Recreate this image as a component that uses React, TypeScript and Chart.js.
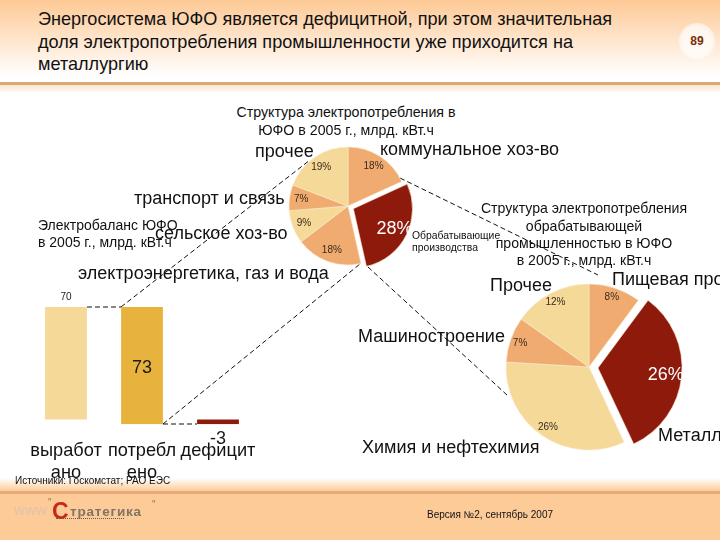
import React, { useEffect, useRef } from "react";
import { Chart, registerables } from "chart.js";

Chart.register(...registerables);

const LIGHT = "#F5D999";
const ORANGE = "#F0AC70";
const DARK = "#8E1A0C";
const GOLD = "#E8B33C";

const regionNames = ["коммунальное хоз-во", "Обрабатывающие производства", "электроэнергетика, газ и вода", "сельское хоз-во", "транспорт и связь", "прочее"];
const regionValues = [18, 28, 18, 9, 7, 19];
const regionColors = [ORANGE, DARK, ORANGE, LIGHT, ORANGE, LIGHT];
const regionOffsets = [0, 24, 0, 0, 0, 0];

const industryNames = ["Пищевая про", "Металл", "Химия и нефтехимия", "Машиностроение", "Прочее"];
const industryValues = [8, 26, 26, 7, 12];
const industryColors = [ORANGE, DARK, LIGHT, ORANGE, LIGHT];
const industryOffsets = [0, 36, 0, 0, 0];

const balanceCategories = [["выработ", "ано"], ["потребл", "ено"], ["дефицит"]];
const balanceValues = [70, 73, -3];
const balanceRanges = [[3, 73], [0, 73], [0, 3]];
const balanceColors = [LIGHT, GOLD, DARK];

const FONT = '"Liberation Sans", Arial, sans-serif';

const sliceLabels = {
  id: "sliceLabels",
  afterDatasetsDraw(chart: any, _a: any, o: any) {
    const ds = chart.data.datasets[0];
    const ctx = chart.ctx;
    chart.getDatasetMeta(0).data.forEach((arc: any, i: number) => {
      const p = arc.getProps(["x", "y", "startAngle", "endAngle", "outerRadius"], true);
      const mid = (p.startAngle + p.endAngle) / 2;
      const big = ds.offset[i] > 0;
      const shift = ds.offset[i] / 4;
      const r = shift + p.outerRadius * (big ? o.bigFrac : o.frac);
      ctx.save();
      ctx.font = big ? `18px ${FONT}` : `10px ${FONT}`;
      ctx.fillStyle = big ? "#FFFFFF" : "#3A2A1A";
      ctx.textAlign = "center";
      ctx.textBaseline = "middle";
      ctx.fillText(ds.data[i] + "%", p.x + Math.cos(mid) * r, p.y + Math.sin(mid) * r);
      ctx.restore();
    });
  },
};

const barLabels = {
  id: "barLabels",
  afterDatasetsDraw(chart: any) {
    const ctx = chart.ctx;
    const y = chart.scales.y;
    const meta = chart.getDatasetMeta(0);
    ctx.save();
    ctx.textAlign = "center";
    ctx.textBaseline = "middle";
    ctx.fillStyle = "#1A1A1A";
    ctx.font = `10px ${FONT}`;
    ctx.fillText(String(balanceValues[0]), meta.data[0].x, y.getPixelForValue(balanceRanges[0][1]) - 10);
    ctx.font = `18px ${FONT}`;
    ctx.fillText(String(balanceValues[1]), meta.data[1].x, y.getPixelForValue(balanceRanges[1][1] / 2) + 2);
    ctx.fillText(String(balanceValues[2]), meta.data[2].x, y.getPixelForValue(0) + 15);
    ctx.restore();
  },
};

function usePie(names: string[], data: number[], colors: string[], offset: number[], radius: number, frac: number, bigFrac: number) {
  const ref = useRef<HTMLCanvasElement>(null);
  useEffect(() => {
    const chart = new Chart(ref.current!, {
      type: "pie",
      data: { labels: names, datasets: [{ data, backgroundColor: colors, offset, borderColor: "#FBE9CF", borderWidth: 0.6, radius } as any] },
      options: {
        responsive: false,
        animation: false,
        layout: { padding: 0 },
        plugins: { legend: { display: false }, tooltip: { enabled: false }, sliceLabels: { frac, bigFrac } } as any,
      },
      plugins: [sliceLabels],
    } as any);
    return () => chart.destroy();
  }, []);
  return ref;
}

function T({ x, y, s, c = "#111111", a = "left", children, style }: any) {
  const st: any = { position: "absolute", top: y, fontSize: s, color: c, whiteSpace: "nowrap", lineHeight: 0, fontFamily: FONT, ...style };
  if (a === "center") { st.left = x; st.transform = "translateX(-50%)"; }
  else st.left = x;
  return <div style={st}>{children}</div>;
}

const dashes = [
  [87, 307, 121, 307],
  [121, 307, 310, 160],
  [163, 424, 197, 424],
  [163, 424, 360, 264],
  [400, 178, 598, 275],
  [368, 267, 507, 395],
];

export default function App() {
  const pie1 = usePie(regionNames, regionValues, regionColors, regionOffsets, 59, 0.8, 0.78);
  const pie2 = usePie(industryNames, industryValues, industryColors, industryOffsets, 83, 0.88, 0.82);
  const barRef = useRef<HTMLCanvasElement>(null);
  useEffect(() => {
    const chart = new Chart(barRef.current!, {
      type: "bar",
      data: {
        labels: balanceCategories,
        datasets: [{ data: balanceRanges, backgroundColor: balanceColors, barPercentage: 0.55, categoryPercentage: 1, borderWidth: 0 }],
      },
      options: {
        responsive: false,
        animation: false,
        layout: { padding: { top: 20, left: 10, right: 10 } },
        scales: {
          x: {
            afterFit(scale: any) { scale.paddingLeft = 0; scale.paddingRight = 0; },
            border: { display: false },
            grid: { display: false, drawTicks: false },
            ticks: { color: "#111", padding: 16, autoSkip: false, maxRotation: 0, minRotation: 0, font: { family: FONT, size: 18.2, lineHeight: 1.2 } },
          },
          y: { display: false, min: 0, max: 73 },
        },
        plugins: { legend: { display: false }, tooltip: { enabled: false } },
      },
      plugins: [barLabels],
    } as any);
    return () => chart.destroy();
  }, []);

  return (
    <div style={{ position: "absolute", left: 0, top: 0, width: 720, height: 540, overflow: "hidden", background: "#fff", fontFamily: FONT }}>
      <div style={{ position: "absolute", left: 0, top: 0, width: 720, height: 76, background: "linear-gradient(#FDC995, #FFFFFF)" }} />
      <div style={{ position: "absolute", left: 0, top: 82, width: 720, height: 3, background: "#D8A97C" }} />
      <div style={{ position: "absolute", left: 0, top: 85, width: 720, height: 8, background: "linear-gradient(#FDE3C8, #FFFFFF)" }} />
      <div style={{ position: "absolute", left: 0, top: 478, width: 720, height: 13, background: "linear-gradient(#FFFFFF, #FCCB98)" }} />
      <div style={{ position: "absolute", left: 0, top: 491, width: 720, height: 49, background: "#FDCB98" }} />
      <div style={{ position: "absolute", left: 0, top: 491, width: 720, height: 3, background: "#E9A878" }} />
      <div style={{ position: "absolute", left: 679, top: 23, width: 36, height: 36, borderRadius: 18, background: "radial-gradient(circle, rgba(255,255,255,0.75) 55%, rgba(255,255,255,0) 100%)" }} />

      <svg width={720} height={540} style={{ position: "absolute", left: 0, top: 0 }}>
        {dashes.map((d, i) => (
          <line key={i} x1={d[0]} y1={d[1]} x2={d[2]} y2={d[3]} stroke="#111" strokeWidth={1} strokeDasharray="5 3" />
        ))}
      </svg>

      <canvas ref={pie1} width={160} height={160} style={{ position: "absolute", left: 268, top: 126 }} />
      <canvas ref={pie2} width={210} height={210} style={{ position: "absolute", left: 484, top: 262 }} />
      <canvas ref={barRef} width={248} height={213} style={{ position: "absolute", left: 18, top: 287 }} />

      <T x={38} y={19} s={18.1}>Энергосистема ЮФО является дефицитной, при этом значительная</T>
      <T x={38} y={42} s={18.1}>доля электропотребления промышленности уже приходится на</T>
      <T x={38} y={64} s={18.1}>металлургию</T>
      <T x={697} y={41} s={12} c="#7A2E08" a="center" style={{ fontWeight: "bold" }}>89</T>

      <T x={346} y={112} s={14.2} a="center">Структура электропотребления в</T>
      <T x={346} y={130} s={14.2} a="center">ЮФО в 2005 г., млрд. кВт.ч</T>
      <T x={255} y={151} s={18}>прочее</T>
      <T x={380} y={149} s={18}>коммунальное хоз-во</T>
      <T x={134} y={198} s={18}>транспорт и связь</T>
      <T x={155} y={233} s={18}>сельское хоз-во</T>
      <T x={78} y={273} s={18}>электроэнергетика, газ и вода</T>
      <T x={38} y={225} s={14}>Электробаланс ЮФО</T>
      <T x={38} y={242} s={14}>в 2005 г., млрд. кВт.ч</T>
      <T x={412} y={236} s={10.4}>Обрабатывающие</T>
      <T x={412} y={248} s={10.4}>производства</T>

      <T x={584} y={208} s={14.1} a="center">Структура электропотребления</T>
      <T x={584} y={226} s={14.1} a="center">обрабатывающей</T>
      <T x={584} y={243} s={14.1} a="center">промышленностью в ЮФО</T>
      <T x={584} y={260} s={14.1} a="center">в 2005 г., млрд. кВт.ч</T>
      <T x={490} y={285} s={18}>Прочее</T>
      <T x={612} y={279} s={18}>Пищевая про</T>
      <T x={358} y={336} s={18}>Машиностроение</T>
      <T x={362} y={447} s={18}>Химия и нефтехимия</T>
      <T x={658} y={435} s={18}>Металл</T>

      <T x={15} y={481} s={10}>Источники: Госкомстат; РАО ЕЭС</T>
      <T x={427} y={515} s={10}>Версия №2, сентябрь 2007</T>

      <T x={14} y={510} s={14} c="#E8C3A6" style={{ fontWeight: "bold" }}>www</T>
      <T x={48} y={503} s={10} c="#8A7A6A">"</T>
      <T x={52} y={511} s={23} c="#C8281A" style={{ fontWeight: "bold" }}>С</T>
      <T x={70} y={512} s={13.5} c="#807468" style={{ fontWeight: "bold", letterSpacing: 0.8 }}>тратегика</T>
      <T x={152} y={505} s={10} c="#8A7A6A">"</T>
      <div style={{ position: "absolute", left: 56, top: 518, width: 68, borderTop: "1px dotted #6A5A4A" }} />
    </div>
  );
}
